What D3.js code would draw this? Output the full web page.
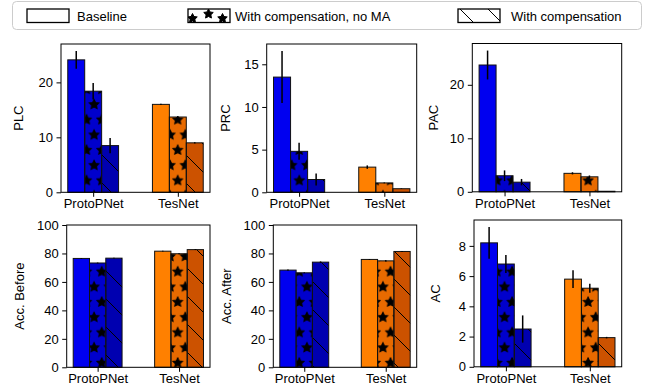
<!DOCTYPE html>
<html>
<head>
<meta charset="utf-8">
<script src="https://cdn.jsdelivr.net/npm/d3@7"></script>
<style>
  body { margin: 0; background: #fff; }
  svg { font-family: "Liberation Sans", Arial, sans-serif; }
</style>
</head>
<body>
<svg width="646" height="392"></svg>
<script>
// categories and series
var groups = ['ProtoPNet', 'TesNet'];
var series = ['Baseline', 'With compensation, no MA', 'With compensation'];
var metrics = ['PLC', 'PRC', 'PAC', 'Acc. Before', 'Acc. After', 'AC'];

// means [group][series] and std errors
var plcMean = [[24.1, 18.4, 8.5], [16.0, 13.7, 9.0]];
var plcErr = [[1.6, 1.5, 1.4], [0.1, 0.2, 0.1]];
var prcMean = [[13.5, 4.8, 1.5], [2.95, 1.1, 0.42]];
var prcErr = [[3.05, 1.0, 0.7], [0.2, 0.05, 0.03]];
var pacMean = [[23.7, 3.0, 1.8], [3.45, 2.8, 0.1]];
var pacErr = [[2.7, 1.0, 0.6], [0.2, 0.25, 0.02]];
var accBeforeMean = [[76.5, 73.3, 76.7], [81.6, 79.8, 82.7]];
var accBeforeErr = [[0.3, 0.3, 0.3], [0.3, 0.3, 0.3]];
var accAfterMean = [[68.3, 66.4, 73.9], [75.8, 74.8, 81.4]];
var accAfterErr = [[0.5, 0.3, 0.5], [0.3, 0.5, 0.3]];
var acMean = [[8.2, 6.8, 2.5], [5.8, 5.2, 1.93]];
var acErr = [[1.05, 0.6, 0.9], [0.58, 0.3, 0.05]];

// tick labels per panel
var plcTicks = [0, 10, 20];
var prcTicks = [0, 5, 10, 15];
var pacTicks = [0, 10, 20];
var accTicks = [0, 20, 40, 60, 80, 100];
var acTicks = [0, 2, 4, 6, 8];

var colors = [
  ['#0000f0', '#0000cc', '#0000b0'],
  ['#ff8000', '#e86a00', '#cc5200']
];
var hatches = ['none', 'url(#stars)', 'url(#diag)'];

// panel boxes (pixel layout of each axes)
var panels = [
  { mean: plcMean, err: plcErr, ticks: plcTicks, ymax: null, box: { l: 61, r: 210, t: 44, b: 192.3 }, labelX: 18 },
  { mean: prcMean, err: prcErr, ticks: prcTicks, ymax: null, box: { l: 266.7, r: 416.7, t: 44, b: 192.3 }, labelX: 225.5 },
  { mean: pacMean, err: pacErr, ticks: pacTicks, ymax: null, box: { l: 472.3, r: 621.7, t: 43.5, b: 191.8 }, labelX: 433.5 },
  { mean: accBeforeMean, err: accBeforeErr, ticks: accTicks, ymax: 100, box: { l: 66.7, r: 210, t: 225, b: 367.3 }, labelX: 19 },
  { mean: accAfterMean, err: accAfterErr, ticks: accTicks, ymax: 100, box: { l: 273.3, r: 416.7, t: 225, b: 367.3 }, labelX: 226 },
  { mean: acMean, err: acErr, ticks: acTicks, ymax: null, box: { l: 474, r: 621.7, t: 220, b: 366.8 }, labelX: 435.5 }
];

var svg = d3.select('svg');
var defs = svg.append('defs');

// 5-point star like matplotlib's unit_regular_star (inner radius 0.5)
function starPath(cx, cy, r) {
  var pts = [];
  for (var i = 0; i < 10; i++) {
    var rr = i % 2 === 0 ? r : r * 0.5;
    var a = -Math.PI / 2 + i * Math.PI / 5;
    pts.push([cx + rr * Math.cos(a), cy + rr * Math.sin(a)]);
  }
  return 'M' + pts.map(function (p) { return p[0].toFixed(2) + ',' + p[1].toFixed(2); }).join('L') + 'Z';
}

// star hatch pattern
var S = 15.2;
var starPat = defs.append('pattern')
  .attr('id', 'stars')
  .attr('patternUnits', 'userSpaceOnUse')
  .attr('x', 10.5).attr('y', 28.5)
  .attr('width', S).attr('height', 2 * S);
[[0, 0], [S, 0], [0, 2 * S], [S, 2 * S], [S / 2, S]].forEach(function (p) {
  starPat.append('path').attr('d', starPath(p[0], p[1], S / 3))
    .attr('fill', '#000').attr('stroke', '#000').attr('stroke-width', 1).attr('stroke-linejoin', 'miter');
});

// diagonal hatch pattern
var H = 28;
var diagPat = defs.append('pattern')
  .attr('id', 'diag')
  .attr('patternUnits', 'userSpaceOnUse')
  .attr('x', 3).attr('y', 0)
  .attr('width', H).attr('height', H);
diagPat.append('path')
  .attr('d', 'M0,0L' + H + ',' + H + 'M-3,' + (H - 3) + 'L3,' + (H + 3) + 'M' + (H - 3) + ',-3L' + (H + 3) + ',3')
  .attr('stroke', '#000').attr('stroke-width', 1);

panels.forEach(function (p, pi) {
  var b = p.box;
  var ymax = p.ymax || d3.max(p.mean, function (row, gi) {
    return d3.max(row, function (v, si) { return v + p.err[gi][si]; });
  }) * 1.05;

  var x = d3.scaleLinear().domain([-0.38, 1.38]).range([b.l, b.r]);
  var y = d3.scaleLinear().domain([0, ymax]).range([b.b, b.t]);
  var barW = 0.2;

  var g = svg.append('g');

  var bars = [];
  p.mean.forEach(function (row, gi) {
    row.forEach(function (v, si) {
      bars.push({ g: gi, s: si, v: v, e: p.err[gi][si] });
    });
  });

  g.selectAll('rect.bar')
    .data(bars)
    .enter()
    .append('rect')
    .attr('class', 'bar')
    .attr('x', function (d) { return x(d.g + (d.s - 1) * barW - barW / 2); })
    .attr('width', x(barW) - x(0))
    .attr('y', function (d) { return y(d.v); })
    .attr('height', function (d) { return y(0) - y(d.v); })
    .attr('fill', function (d) { return colors[d.g][d.s]; });

  // hatch overlay
  g.selectAll('rect.hatch')
    .data(bars.filter(function (d) { return d.s > 0; }))
    .enter()
    .append('rect')
    .attr('class', 'hatch')
    .attr('x', function (d) { return x(d.g + (d.s - 1) * barW - barW / 2); })
    .attr('width', x(barW) - x(0))
    .attr('y', function (d) { return y(d.v); })
    .attr('height', function (d) { return y(0) - y(d.v); })
    .attr('fill', function (d) { return hatches[d.s]; });

  // bar edges
  g.selectAll('rect.edge')
    .data(bars)
    .enter()
    .append('rect')
    .attr('class', 'edge')
    .attr('x', function (d) { return x(d.g + (d.s - 1) * barW - barW / 2); })
    .attr('width', x(barW) - x(0))
    .attr('y', function (d) { return y(d.v); })
    .attr('height', function (d) { return y(0) - y(d.v); })
    .attr('fill', 'none')
    .attr('stroke', '#111')
    .attr('stroke-width', 1);

  // error bars
  g.selectAll('line.err')
    .data(bars)
    .enter()
    .append('line')
    .attr('x1', function (d) { return x(d.g + (d.s - 1) * barW); })
    .attr('x2', function (d) { return x(d.g + (d.s - 1) * barW); })
    .attr('y1', function (d) { return y(d.v - d.e); })
    .attr('y2', function (d) { return y(d.v + d.e); })
    .attr('stroke', '#000')
    .attr('stroke-width', 1.5);

  // y axis
  var yAxis = g.append('g')
    .attr('transform', 'translate(' + b.l + ',0)')
    .call(d3.axisLeft(y).tickValues(p.ticks).tickSize(4.5).tickPadding(3.5).tickFormat(d3.format('d')));
  yAxis.select('.domain').remove();
  yAxis.selectAll('text').attr('font-size', 13).attr('fill', '#000').attr('font-family', '"Liberation Sans", Arial, sans-serif');
  yAxis.selectAll('line').attr('stroke', '#000');

  // x axis
  var xAxis = g.append('g')
    .attr('transform', 'translate(0,' + b.b + ')')
    .call(d3.axisBottom(x).tickValues([0, 1]).tickSize(4.5).tickPadding(2).tickFormat(function (d) { return groups[d]; }));
  xAxis.select('.domain').remove();
  xAxis.selectAll('text').attr('font-size', 13).attr('fill', '#000').attr('font-family', '"Liberation Sans", Arial, sans-serif');
  xAxis.selectAll('line').attr('stroke', '#000');

  // frame
  g.append('rect')
    .attr('x', b.l).attr('y', b.t)
    .attr('width', b.r - b.l).attr('height', b.b - b.t)
    .attr('fill', 'none').attr('stroke', '#000').attr('stroke-width', 1);

  // y label
  g.append('text')
    .attr('transform', 'translate(' + p.labelX + ',' + ((b.t + b.b) / 2) + ') rotate(-90)')
    .attr('text-anchor', 'middle')
    .attr('dominant-baseline', 'central')
    .attr('font-size', 13)
    .text(metrics[pi]);
});

// legend
var leg = svg.append('g');
leg.append('rect')
  .attr('x', 12.5).attr('y', 1.5).attr('width', 629).attr('height', 28)
  .attr('rx', 4).attr('fill', '#fff').attr('stroke', '#cccccc').attr('stroke-width', 1);

var legItems = [
  { px: 27, tx: 77 },
  { px: 188, tx: 235 },
  { px: 458, tx: 511 }
];
legItems.forEach(function (it, i) {
  var pw = 42, ph = 13.5, py = 9;
  if (i === 2) {
    leg.append('rect').attr('x', it.px).attr('y', py).attr('width', pw).attr('height', ph)
      .attr('fill', 'url(#diag)');
  }
  if (i === 1) {
    var cp = defs.append('clipPath').attr('id', 'legclip');
    cp.append('rect').attr('x', it.px).attr('y', py).attr('width', pw).attr('height', ph);
    var sg = leg.append('g').attr('clip-path', 'url(#legclip)');
    [[4.5, 9.5], [20.5, 5], [34.5, 9.5]].forEach(function (s) {
      sg.append('path').attr('d', starPath(it.px + s[0], py + s[1], 5))
        .attr('fill', '#000').attr('stroke', '#000').attr('stroke-width', 1);
    });
  }
  leg.append('rect').attr('x', it.px).attr('y', py).attr('width', pw).attr('height', ph)
    .attr('fill', 'none').attr('stroke', '#000').attr('stroke-width', 1.3);
  leg.append('text')
    .attr('x', it.tx).attr('y', 20.5)
    .attr('font-size', 13)
    .text(series[i]);
});
</script>
</body>
</html>
